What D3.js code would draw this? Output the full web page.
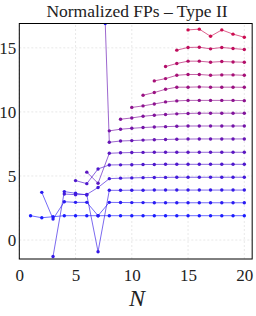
<!DOCTYPE html>
<html>
<head>
<meta charset="utf-8">
<script src="https://cdn.jsdelivr.net/npm/d3@7"></script>
<style>
body { margin: 0; background: #fff; }
text { font-family: "Liberation Serif", "Times New Roman", "DejaVu Serif", serif; }
</style>
</head>
<body>
<div id="viz"></div>
<script>
// series k starts at N = k
s1 = [1.90, 1.74, 1.82, 1.90, 1.90, 1.90, 1.90, 1.90, 1.90, 1.90, 1.90, 1.90, 1.90, 1.90, 1.90, 1.90, 1.90, 1.90, 1.90, 1.90];
s2 = [3.72, 1.64, 2.99, 2.94, 2.94, 1.90, 2.94, 2.93, 2.92, 2.92, 2.91, 2.91, 2.91, 2.91, 2.91, 2.91, 2.91, 2.91, 2.91];
s3 = [-1.28, 3.78, 3.65, 3.52, -0.91, 3.88, 3.88, 3.89, 3.89, 3.90, 3.90, 3.90, 3.90, 3.90, 3.90, 3.90, 3.90, 3.90];
s4 = [3.59, 3.54, 3.56, 4.10, 4.79, 4.83, 4.85, 4.87, 4.88, 4.89, 4.90, 4.90, 4.90, 4.90, 4.90, 4.90, 4.90];
s5 = [4.64, 4.40, 5.55, 5.86, 5.87, 5.88, 5.89, 5.90, 5.91, 5.91, 5.91, 5.91, 5.91, 5.91, 5.91, 5.91];
s6 = [5.30, 4.43, 6.77, 6.81, 6.83, 6.84, 6.85, 6.85, 6.85, 6.85, 6.85, 6.85, 6.85, 6.85, 6.85];
s7 = [33.4, 7.63, 7.73, 7.76, 7.80, 7.83, 7.85, 7.87, 7.88, 7.89, 7.89, 7.89, 7.89, 7.89];
s8 = [8.52, 8.65, 8.72, 8.78, 8.82, 8.85, 8.88, 8.90, 8.90, 8.90, 8.90, 8.90, 8.90];
s9 = [9.43, 9.53, 9.66, 9.74, 9.80, 9.85, 9.88, 9.90, 9.90, 9.90, 9.90, 9.90];
s10 = [10.35, 10.47, 10.62, 10.78, 10.86, 10.90, 10.90, 10.90, 10.90, 10.90, 10.88];
s11 = [11.30, 11.51, 11.77, 11.93, 11.93, 11.95, 11.93, 11.93, 11.93, 11.92];
s12 = [12.42, 12.60, 12.86, 12.92, 12.92, 12.86, 12.89, 12.89, 12.86];
s13 = [13.54, 13.78, 13.96, 13.96, 13.88, 13.93, 13.90, 13.88];
s14 = [14.82, 15.03, 15.05, 14.92, 15.03, 14.95, 14.87];
s15 = [16.40, 16.46, 15.90, 16.40, 16.07, 15.83];

series = [s1, s2, s3, s4, s5, s6, s7, s8, s9, s10, s11, s12, s13, s14, s15];
xTicks = [0, 5, 10, 15, 20];
yTicks = [0, 5, 10, 15];

var W = 256, H = 316;
var xMin = 0, xMax = 20.7, yMin = -1.48, yMax = 16.9;
var serif = "'Liberation Serif', 'Times New Roman', 'DejaVu Serif', serif";

var x = d3.scaleLinear().domain([xMin, xMax]).range([19.3, 19.3 + xMax * 11.25]);
var y = d3.scaleLinear().domain([yMin, yMax]).range([259, 23.5]);

var color = d3.scaleLinear()
	.domain([0, series.length - 1])
	.range(["#1c1cff", "#cc0c50"])
	.interpolate(d3.interpolateRgb);

var svg = d3.select("#viz").append("svg")
	.attr("width", W)
	.attr("height", H);

svg.append("defs").append("clipPath").attr("id", "clip")
	.append("rect")
	.attr("x", x(xMin)).attr("y", y(yMax))
	.attr("width", x(xMax) - x(xMin)).attr("height", y(yMin) - y(yMax));

// grid
svg.append("g").selectAll("line").data(xTicks).enter().append("line")
	.attr("x1", d => x(d)).attr("x2", d => x(d))
	.attr("y1", y(yMin)).attr("y2", y(yMax))
	.attr("stroke", "#d8d8d8").attr("stroke-width", 0.6)
	.attr("stroke-dasharray", "2,2");

svg.append("g").selectAll("line").data(yTicks).enter().append("line")
	.attr("x1", x(xMin)).attr("x2", x(xMax))
	.attr("y1", d => y(d)).attr("y2", d => y(d))
	.attr("stroke", "#d8d8d8").attr("stroke-width", 0.6)
	.attr("stroke-dasharray", "2,2");

var line = d3.line()
	.x(d => x(d[0]))
	.y(d => y(d[1]));

var plot = svg.append("g").attr("clip-path", "url(#clip)");

series.forEach(function(s, i) {
	var pts = s.map((v, j) => [i + 1 + j, v]);
	plot.append("path").datum(pts)
		.attr("d", line)
		.attr("fill", "none")
		.attr("stroke", color(i))
		.attr("stroke-opacity", 0.65)
		.attr("stroke-width", 1);
	plot.selectAll(null).data(pts).enter().append("circle")
		.attr("cx", d => x(d[0]))
		.attr("cy", d => y(d[1]))
		.attr("r", 1.7)
		.attr("fill", color(i));
});

// marker where the out-of-range segment leaves the plot
var a = [7, s7[0]], b = [8, s7[1]];
var t = (a[1] - yMax) / (a[1] - b[1]);
plot.append("circle")
	.attr("cx", x(a[0] + t * (b[0] - a[0])))
	.attr("cy", y(yMax))
	.attr("r", 1.7)
	.attr("fill", color(0));

// frame
svg.append("rect")
	.attr("x", x(xMin)).attr("y", y(yMax))
	.attr("width", x(xMax) - x(xMin)).attr("height", y(yMin) - y(yMax))
	.attr("fill", "none").attr("stroke", "black").attr("stroke-width", 1);

svg.append("g").attr("transform", "translate(0," + y(yMin) + ")")
	.attr("font-family", serif)
	.call(d3.axisBottom(x).tickValues(xTicks).tickSize(0).tickPadding(10))
	.call(g => g.select(".domain").remove())
	.selectAll("text").style("font-size", "17px").style("font-family", serif).attr("fill", "#222");

svg.append("g").attr("transform", "translate(" + x(xMin) + ",0)")
	.attr("font-family", serif)
	.call(d3.axisLeft(y).tickValues(yTicks).tickSize(0).tickPadding(3))
	.call(g => g.select(".domain").remove())
	.selectAll("text").style("font-size", "17px").style("font-family", serif).attr("fill", "#222");

svg.append("text")
	.attr("x", 137).attr("y", 16.5)
	.attr("text-anchor", "middle")
	.style("font-size", "17.5px")
	.style("font-family", serif)
	.attr("fill", "#222")
	.text("Normalized FPs – Type II");

svg.append("text")
	.attr("x", 137).attr("y", 306)
	.attr("text-anchor", "middle")
	.style("font-size", "24px")
	.style("font-style", "italic")
	.style("font-family", serif)
	.attr("fill", "#222")
	.text("N");
</script>
</body>
</html>
